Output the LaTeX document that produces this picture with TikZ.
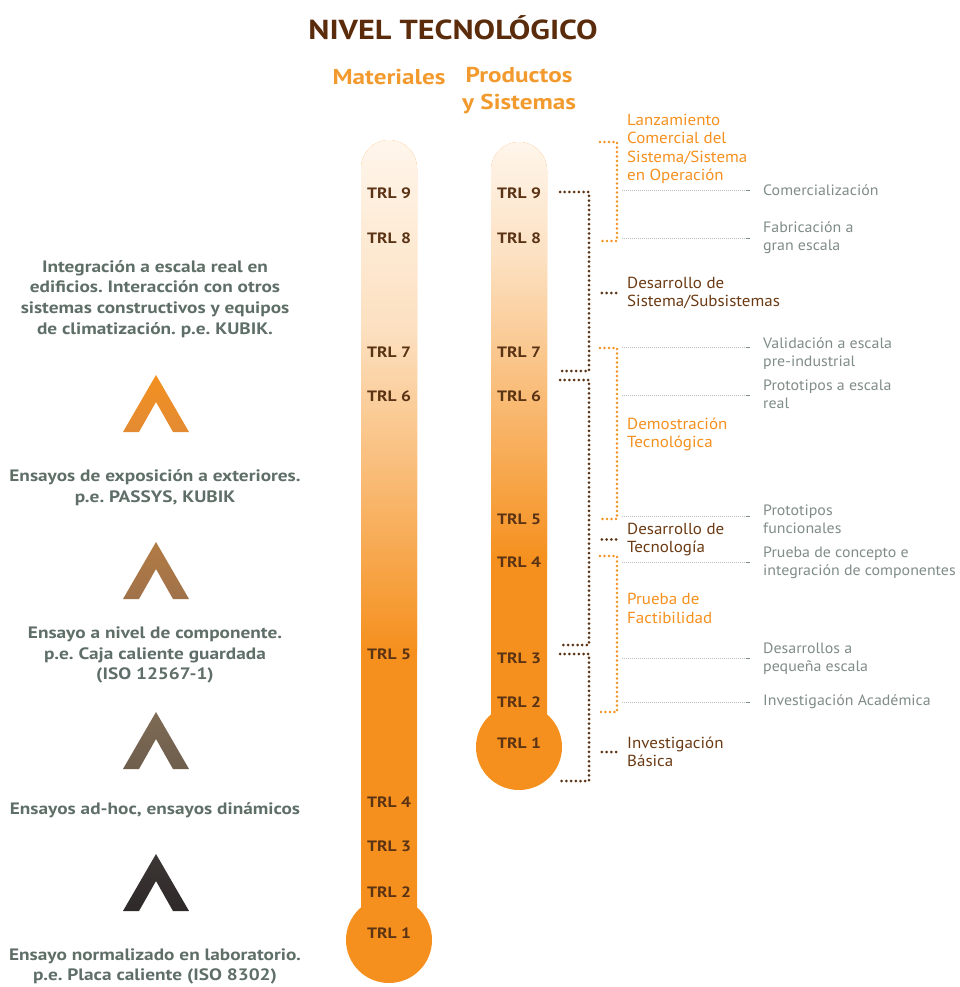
\documentclass[tikz,border=0pt]{standalone}
\usepackage{fontspec}
\setmainfont{PT Sans}[FakeStretch=1.06, BoldFeatures={FakeStretch=1.17}]
\usetikzlibrary{calc}
\frenchspacing

\definecolor{trlorange}{HTML}{F5901E}
\definecolor{trlpeach}{HTML}{FCE0C0}
\definecolor{trlpale}{HTML}{FFF6EC}
\definecolor{trltext}{HTML}{5A3214}
\definecolor{titlebrown}{HTML}{5B2C0C}
\definecolor{headorange}{HTML}{F39A2E}
\definecolor{notegrey}{HTML}{5F6F68}
\definecolor{phasebrown}{HTML}{6B3A13}
\definecolor{detailgrey}{HTML}{7F8C87}
\definecolor{linkbrown}{HTML}{5C3415}
\definecolor{chevAtop}{HTML}{F39020}
\definecolor{chevAbot}{HTML}{E38B33}
\definecolor{chevBtop}{HTML}{B27B44}
\definecolor{chevBbot}{HTML}{A0724A}
\definecolor{chevCtop}{HTML}{7E6B55}
\definecolor{chevCbot}{HTML}{6E5E4C}
\definecolor{chevDtop}{HTML}{3C3634}
\definecolor{chevDbot}{HTML}{2E2A29}

\tikzset{
  trl/.style={font=\bfseries\fontsize{15}{15}\selectfont, text=trltext, inner sep=0pt},
  head/.style={align=center, font=\bfseries\fontsize{21.5}{27}\selectfont, text=headorange, inner sep=0pt},
  leftnote/.style={align=center, font=\bfseries\fontsize{16.5}{20.8}\selectfont, text=notegrey, inner sep=0pt},
  phase/.style={anchor=west, align=left, font=\fontsize{16}{18.5}\selectfont, inner sep=0pt},
  detail/.style={anchor=west, align=left, font=\fontsize{15}{18}\selectfont, text=detailgrey, inner sep=0pt},
  brownlink/.style={draw=linkbrown, line width=3pt, line cap=round, dash pattern=on 0pt off 4.7pt},
  orangelink/.style={draw=trlorange, line width=2.6pt, line cap=round, dash pattern=on 0pt off 4.5pt},
  greylink/.style={draw=detailgrey!55, line width=0.7pt, dash pattern=on 0.7pt off 1.3pt},
}

% thermometer: x, top of tube, bulb centre, start and end of the fade
\newcommand{\thermo}[5]{%
  \begin{scope}
    \clip (#1-28,#3) -- (#1-28,#2+28) arc (180:360:28) -- (#1+28,#3) -- cycle;
    \fill[trlorange] (#1-30,#2-2) rectangle (#1+30,#3);
    \shade[top color=trlpale, bottom color=trlpeach] (#1-30,#2-2) rectangle (#1+30,#4);
    \shade[top color=trlpeach, bottom color=trlorange] (#1-30,#4) rectangle (#1+30,#5);
  \end{scope}
  \fill[trlorange] (#1,#3) circle (43);
}

% chevron: apex and two shades
\newcommand{\chevron}[3]{%
  \shade[top color=#2, bottom color=#3]
    (#1) -- ++(33,57) -- ++(-16,0) -- ++(-17,-30) -- ++(-17,30) -- ++(-16,0) -- cycle;
}

\begin{document}
\begin{tikzpicture}[x=1pt, y=-1pt]
\useasboundingbox (0,0) rectangle (960,987);

\node[font=\bfseries\fontsize{27.5}{34}\selectfont, text=titlebrown] (title) at (453,28) {NIVEL TECNOLÓGICO};
\node[head] (mat) at (389,77) {Materiales};
\node[head] (prod) at (519,90.5) {Productos\\y Sistemas};

% the two thermometers
\thermo{389}{140}{940}{330}{650}
\thermo{519}{142}{747}{260}{560}

\foreach \n/\y in {9/193, 8/238, 7/352, 6/396, 5/654, 4/802, 3/846, 2/892, 1/933}
  \node[trl] (m\n) at (389,\y) {TRL \n};
\foreach \n/\y in {9/193, 8/238, 7/352, 6/396, 5/519, 4/562, 3/658, 2/702, 1/743}
  \node[trl] (p\n) at (519,\y) {TRL \n};

% test levels on the left
\node[leftnote] (n1) at (155,299) {Integración a escala real en\\edificios. Interacción con otros\\sistemas constructivos y equipos\\de climatización. p.e. KUBIK.};
\node[leftnote] (n2) at (155,488) {Ensayos de exposición a exteriores.\\p.e. PASSYS, KUBIK};
\node[leftnote] (n3) at (155,655) {Ensayo a nivel de componente.\\p.e. Caja caliente guardada\\(ISO 12567-1)};
\node[leftnote] (n4) at (155,810) {Ensayos ad-hoc, ensayos dinámicos};
\node[leftnote] (n5) at (155,966.5) {Ensayo normalizado en laboratorio.\\p.e. Placa caliente (ISO 8302)};

\coordinate (c1) at (156,375);
\coordinate (c2) at (156,542);
\coordinate (c3) at (156,712);
\coordinate (c4) at (156,854);
\chevron{c1}{chevAtop}{chevAbot}
\chevron{c2}{chevBtop}{chevBbot}
\chevron{c3}{chevCtop}{chevCbot}
\chevron{c4}{chevDtop}{chevDbot}

% phases
\node[phase, text=trlorange] (lanz) at (627,149) {Lanzamiento\\Comercial del\\Sistema/Sistema\\en Operación};
\node[phase, text=phasebrown] (dsis) at (627,293) {Desarrollo de\\Sistema/Subsistemas};
\node[phase, text=trlorange] (demo) at (627,434.5) {Demostración\\Tecnológica};
\node[phase, text=phasebrown] (dtec) at (627,539.5) {Desarrollo de\\Tecnología};
\node[phase, text=trlorange] (fact) at (627,608.5) {Prueba de\\Factibilidad};
\node[phase, text=phasebrown] (basi) at (627,752) {Investigación\\Básica};

\node[detail] (d1) at (763,190) {Comercialización};
\node[detail] (d2) at (763,238) {Fabricación a\\gran escala};
\node[detail] (d3) at (763,354) {Validación a escala\\pre-industrial};
\node[detail] (d4) at (763,394) {Prototipos a escala\\real};
\node[detail] (d5) at (763,519) {Prototipos\\funcionales};
\node[detail] (d6) at (763,563) {Prueba de concepto e\\integración de componentes};
\node[detail] (d7) at (763,658.5) {Desarrollos a\\pequeña escala};
\node[detail] (d8) at (763,702) {Investigación Académica};

% brown brackets from the TRL levels
\coordinate (b9) at (560,192);  \coordinate (b7) at (560,371);
\coordinate (b6) at (560,380);  \coordinate (b3) at (560,645);
\coordinate (b2) at (560,654);  \coordinate (b0) at (560,781);
\draw[brownlink] (b9) -- ++(29,0) |- (b7);
\draw[brownlink] (b6) -- ++(29,0) |- (b3);
\draw[brownlink] (b2) -- ++(29,0) |- (b0);
\foreach \p in {dsis, dtec, basi}
  \draw[brownlink] ([xshift=-11]\p.west) -- ([xshift=-27]\p.west);

% orange brackets
\coordinate (o1) at (600,142);  \coordinate (o2) at (600,241);
\coordinate (o3) at (600,348);  \coordinate (o4) at (600,519);
\coordinate (o5) at (600,556);  \coordinate (o6) at (600,712);
\draw[orangelink] (o1) -- ++(17,0) |- (o2);
\draw[orangelink] (o3) -- ++(17,0) |- (o4);
\draw[orangelink] (o5) -- ++(17,0) |- (o6);

% thin guides to the details
\foreach \i/\y in {1/190, 2/238, 3/347, 4/395, 5/516, 6/562, 7/658, 8/702} {
  \coordinate (gs\i) at (622,\y);
  \coordinate (ge\i) at (746,\y);
  \draw[greylink] (gs\i) -- (ge\i);
  \draw[detailgrey, line width=0.8pt] (ge\i) -- ++(4,0);
}
\end{tikzpicture}
\end{document}
